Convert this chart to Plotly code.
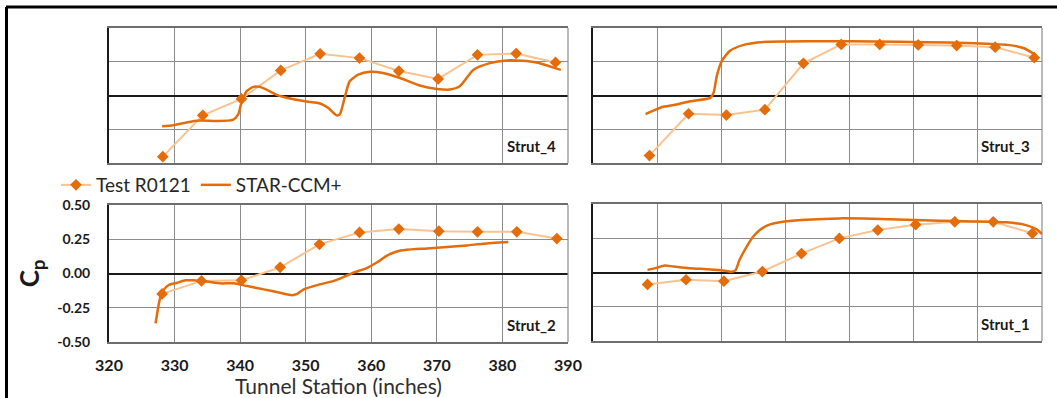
import plotly.graph_objects as go

W, H = 1057, 398

# ---------------- data ----------------
x_ticks = [320, 330, 340, 350, 360, 370, 380, 390]
x_tick_labels = ["320", "330", "340", "350", "360", "370", "380", "390"]
cp_ticks = [-0.5, -0.25, 0.0, 0.25, 0.5]
cp_tick_labels = ["-0.50", "-0.25", "0.00", "0.25", "0.50"]

# Strut_4
s4_test_x = [328.2, 334.3, 340.2, 346.2, 352.2, 358.2, 364.2, 370.2, 376.2, 382.1, 388.1]
s4_test_cp = [-0.453, -0.147, -0.025, 0.186, 0.309, 0.277, 0.181, 0.123, 0.301, 0.311, 0.245]
s4_cfd_x = [328.1, 329.8, 331.8, 333.8, 336.4, 338.9, 339.7, 340.2, 341.0, 342.0, 343.0, 344.0,
            345.5, 347.6, 350.1, 352.2, 353.4, 354.7, 355.2, 356.0, 356.7, 358.0, 359.8, 361.8,
            364.4, 367.4, 370.0, 372.0, 373.5, 375.6, 378.1, 380.7, 383.0, 385.2, 388.9]
s4_cfd_cp = [-0.228, -0.22, -0.20, -0.186, -0.189, -0.181, -0.14, -0.054, 0.032, 0.064, 0.064, 0.044,
             0.007, -0.022, -0.044, -0.059, -0.091, -0.147, -0.14, -0.005, 0.105, 0.154, 0.176, 0.167,
             0.13, 0.074, 0.049, 0.044, 0.069, 0.191, 0.24, 0.26, 0.258, 0.245, 0.19]

# Strut_3
s3_test_x = [328.8, 334.9, 340.8, 346.8, 352.8, 358.7, 364.7, 370.7, 376.7, 382.7, 388.8]
s3_test_cp = [-0.445, -0.135, -0.145, -0.105, 0.238, 0.378, 0.378, 0.375, 0.37, 0.358, 0.28]
s3_cfd_x = [328.2, 329.5, 330.8, 332.6, 335.2, 338.3, 338.8, 339.3, 340.1, 341.4, 343.5, 346.1,
            350.2, 356.5, 363.8, 371.6, 379.4, 384.6, 387.2, 389.0]
s3_cfd_cp = [-0.1375, -0.11, -0.085, -0.07, -0.0425, -0.0175, 0.02, 0.145, 0.2575, 0.3325, 0.375, 0.395,
             0.40, 0.4025, 0.40, 0.395, 0.3875, 0.375, 0.35, 0.30]

# Strut_2
s2_test_x = [328.1, 334.1, 340.2, 346.1, 352.1, 358.2, 364.2, 370.3, 376.2, 382.2, 388.3]
s2_test_cp = [-0.149, -0.054, -0.05, 0.045, 0.213, 0.30, 0.324, 0.309, 0.304, 0.304, 0.255]
s2_cfd_x = [327.1, 327.4, 327.8, 328.4, 329.1, 330.4, 331.7, 332.9, 334.9, 337.0, 339.0, 341.1,
            343.6, 346.1, 347.9, 348.7, 349.7, 352.2, 354.3, 355.8, 357.3, 359.3, 360.9, 362.4,
            363.9, 365.4, 368.5, 371.5, 374.6, 377.1, 380.9]
s2_cfd_cp = [-0.364, -0.277, -0.178, -0.116, -0.084, -0.067, -0.05, -0.05, -0.059, -0.072, -0.072, -0.092,
             -0.116, -0.141, -0.158, -0.149, -0.116, -0.079, -0.054, -0.025, 0.007, 0.04, 0.082, 0.131,
             0.161, 0.173, 0.183, 0.193, 0.205, 0.218, 0.23]

# Strut_1
s1_test_x = [328.5, 334.5, 340.4, 346.4, 352.5, 358.4, 364.4, 370.3, 376.4, 382.4, 388.5]
s1_test_cp = [-0.087, -0.053, -0.063, 0.007, 0.138, 0.249, 0.31, 0.349, 0.37, 0.37, 0.286]
s1_cfd_x = [328.5, 329.9, 331.2, 332.5, 335.1, 337.7, 340.3, 341.5, 342.2, 342.8, 343.9, 344.9,
            346.0, 347.5, 349.6, 353.2, 358.4, 363.6, 368.8, 374.0, 379.2, 384.4, 387.5, 389.1, 390.0]
s1_cfd_cp = [0.019, 0.034, 0.051, 0.044, 0.031, 0.024, 0.015, 0.005, 0.015, 0.087, 0.184, 0.257,
             0.31, 0.349, 0.37, 0.385, 0.395, 0.392, 0.385, 0.378, 0.373, 0.366, 0.346, 0.317, 0.281]

panel_names = ["Strut_4", "Strut_3", "Strut_2", "Strut_1"]
series_names = ["Test R0121", "STAR-CCM+"]

panels = [
    (s4_test_x, s4_test_cp, s4_cfd_x, s4_cfd_cp),
    (s3_test_x, s3_test_cp, s3_cfd_x, s3_cfd_cp),
    (s2_test_x, s2_test_cp, s2_cfd_x, s2_cfd_cp),
    (s1_test_x, s1_test_cp, s1_cfd_x, s1_cfd_cp),
]

# ---------------- layout geometry (pixels) ----------------
FONT = "Lato, 'Open Sans', sans-serif"
TEST_LINE = "#FAC28F"
TEST_MARK = "#E46C0A"
CFD_LINE = "#E46C0A"
GRID = "#8c8c8c"

x_dom = [(109, 568), (593, 1042), (109, 568), (593, 1042)]
y_dom = [(28, 163), (28, 163), (205, 342), (204, 341)]

fig = go.Figure()
axis_ids = ["", "2", "3", "4"]

for i, (tx, ty, cx, cy) in enumerate(panels):
    aid = axis_ids[i]
    xref = "x" + aid
    yref = "y" + aid
    fig.add_trace(go.Scatter(
        x=tx, y=ty, mode="lines+markers", name=series_names[0],
        line=dict(color=TEST_LINE, width=2),
        marker=dict(symbol="diamond", size=9, color=TEST_MARK),
        xaxis=xref, yaxis=yref, showlegend=(i == 0), legendrank=1,
    ))
    fig.add_trace(go.Scatter(
        x=cx, y=cy, mode="lines", name=series_names[1],
        line=dict(color=CFD_LINE, width=2.5, shape="spline", smoothing=0.6),
        xaxis=xref, yaxis=yref, showlegend=(i == 0), legendrank=2,
    ))

    x0, x1 = x_dom[i]
    yt, yb = y_dom[i]
    is_label_panel = (i == 2)
    xa = dict(
        domain=[x0 / W, x1 / W], range=[320, 390], anchor=yref,
        tickvals=x_ticks, ticktext=x_tick_labels,
        showgrid=True, gridcolor=GRID, gridwidth=1, zeroline=False,
        showline=True, linecolor="#6e6e6e", linewidth=1.5, mirror=True,
        ticks="", showticklabels=is_label_panel, fixedrange=True, automargin=False,
        tickfont=dict(family=FONT, size=16, color="#1a1a1a", weight="bold"),
        ticklabelstandoff=8,
    )
    ya = dict(
        domain=[1 - yb / H, 1 - yt / H], range=[-0.5, 0.5], anchor=xref,
        tickvals=cp_ticks, ticktext=cp_tick_labels,
        showgrid=True, gridcolor=GRID, gridwidth=1,
        zeroline=True, zerolinecolor="#1a1a1a", zerolinewidth=2,
        showline=True, linecolor="#1a1a1a", linewidth=2, mirror=False,
        ticks="", showticklabels=is_label_panel, fixedrange=True, automargin=False,
        tickfont=dict(family=FONT, size=14, color="#1a1a1a", weight="bold"),
        ticklabelstandoff=14,
    )
    if is_label_panel:
        xa["title"] = dict(text="Tunnel Station (inches)", standoff=5,
                           font=dict(family=FONT, size=21, color="#2e2e2e"))
        ya["title"] = dict(text="<b>C<sub>p</sub></b>", standoff=10,
                           font=dict(family=FONT, size=26, color="#1a1a1a"))
    fig.update_layout({"xaxis" + aid: xa, "yaxis" + aid: ya})

    # right border of plot area
    fig.add_shape(type="line", xref=xref + " domain", yref=yref + " domain",
                  x0=1, x1=1, y0=0, y1=1, line=dict(color=GRID, width=1.2))
    # strut label
    fig.add_annotation(
        text="<b>" + panel_names[i] + "</b>", xref=xref + " domain", yref=yref + " domain",
        x=1 - 10 / (x1 - x0), y=17 / (yb - yt), xanchor="right", yanchor="middle",
        showarrow=False, font=dict(family=FONT, size=15, color="#1a1a1a"),
    )

# outer frame (top and left)
fig.add_shape(type="line", xref="paper", yref="paper", x0=6 / W, x1=1, y0=1 - 7 / H, y1=1 - 7 / H,
              line=dict(color="black", width=3))
fig.add_shape(type="line", xref="paper", yref="paper", x0=6.5 / W, x1=6.5 / W, y0=0, y1=1 - 7 / H,
              line=dict(color="black", width=3))

fig.update_layout(
    width=W, height=H,
    margin=dict(l=0, r=0, t=0, b=0, autoexpand=False),
    paper_bgcolor="white", plot_bgcolor="white",
    font=dict(family=FONT, color="#262626"),
    legend=dict(orientation="h", x=56 / W, xanchor="left", y=1 - 185 / H, yanchor="middle",
                font=dict(family=FONT, size=19, color="#262626"), bgcolor="rgba(0,0,0,0)",
                itemwidth=30, traceorder="normal"),
)

page_fix = (
    "document.documentElement.style.margin='0';"
    "document.documentElement.style.padding='0';"
    "document.documentElement.style.overflow='hidden';"
    "document.body.style.margin='0';"
    "document.body.style.padding='0';"
    "document.body.style.overflow='hidden';"
    "var gd=document.getElementById('{plot_id}');"
    "gd.style.position='fixed';gd.style.left='0px';gd.style.top='0px';"
)

fig.write_html("out.html", post_script=page_fix)
